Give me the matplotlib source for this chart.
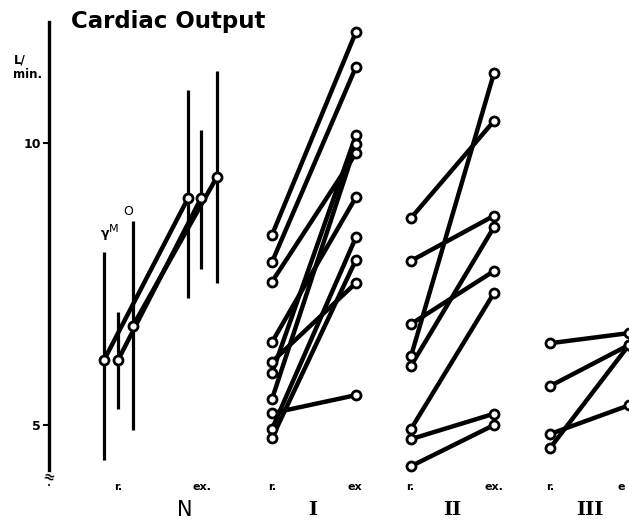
import matplotlib
matplotlib.use("Agg")
import matplotlib.pyplot as plt
import numpy as np

# ---- data (L/min) ----
n_rest_mean = [6.15, 6.15, 6.76]
n_rest_hi = [8.07, 7.00, 8.62]
n_rest_lo = [4.38, 5.28, 4.91]
n_ex_mean = [9.02, 9.02, 9.40]
n_ex_hi = [10.94, 10.23, 11.28]
n_ex_lo = [7.25, 7.77, 7.52]

g1_rest = [8.37, 7.89, 7.54, 6.47, 6.12, 5.92, 5.46, 5.21, 4.93, 4.77]
g1_ex = [11.97, 11.35, 9.82, 9.04, 7.52, 10.14, 9.98, 5.53, 8.33, 7.93]

g2_rest = [8.67, 7.91, 6.79, 6.22, 6.05, 4.93, 4.75, 4.27]
g2_ex = [10.39, 8.71, 7.73, 11.24, 8.51, 7.34, 5.20, 5.00]

g3_rest = [6.45, 5.69, 4.84, 4.59]
g3_ex = [6.63, 6.42, 5.35, 6.42]

group_names = ["N", "I", "II", "III"]
yticks = [5, 10]

# ---- layout ----
W, H = 629, 520
fig = plt.figure(figsize=(W / 100, H / 100), dpi=100)
ax = fig.add_axes([0, 0, 1, 1])
ax.set_xlim(0, W)
ax.set_ylim(3.316, 12.535)
ax.patch.set_alpha(0)

for s in ["top", "right", "bottom"]:
    ax.spines[s].set_visible(False)
ax.spines["left"].set_position(("data", 49))
ax.spines["left"].set_bounds(4.2, 12.15)
ax.spines["left"].set_linewidth(2.4)
ax.set_xticks([])
ax.set_yticks(yticks)
ax.set_yticklabels([str(t) for t in yticks], fontsize=9, fontweight="bold",
                   family="DejaVu Sans")
ax.tick_params(axis="y", direction="out", length=4, width=1.5, pad=2)

LW = 3.2
MS = 6.5
MEW = 2.0
mk = dict(marker="o", ms=MS, mfc="white", mec="black", mew=MEW)

# N group
n_rx = [104, 118, 133]
n_ex = [188, 201, 217]
for i in range(3):
    ax.vlines(n_rx[i], n_rest_lo[i], n_rest_hi[i], color="black", lw=2.3)
    ax.vlines(n_ex[i], n_ex_lo[i], n_ex_hi[i], color="black", lw=2.3)
for i in range(3):
    ax.plot([n_rx[i], n_ex[i]], [n_rest_mean[i], n_ex_mean[i]], color="black",
            lw=LW, solid_capstyle="round", zorder=3)
for i in range(3):
    ax.plot([n_rx[i], n_ex[i]], [n_rest_mean[i], n_ex_mean[i]], ls="none",
            zorder=4, **mk)
ax.text(n_rx[0] + 1, 8.40, "γ", fontsize=9, ha="center", va="center", fontweight="bold")
ax.text(n_rx[0] + 10, 8.48, "M", fontsize=8, ha="center", va="center")
ax.text(n_rx[2] - 5, 8.78, "O", fontsize=9, ha="center", va="center")

def pairs(xr, xe, rest, ex):
    for r, e in zip(rest, ex):
        ax.plot([xr, xe], [r, e], color="black", lw=LW, solid_capstyle="round",
                zorder=3, clip_on=False)
    ax.plot([xr] * len(rest), rest, ls="none", zorder=4, clip_on=False, **mk)
    ax.plot([xe] * len(ex), ex, ls="none", zorder=4, clip_on=False, **mk)

pairs(272, 356, g1_rest, g1_ex)
pairs(411, 494, g2_rest, g2_ex)
pairs(550, 629, g3_rest, g3_ex)

# axis labels
lab = dict(fontsize=8, fontweight="bold", ha="center", va="center")
yl = 3.90
ax.text(118, yl, "r.", **lab)
ax.text(202, yl, "ex.", **lab)
ax.text(272, yl, "r.", **lab)
ax.text(355, yl, "ex", **lab)
ax.text(410, yl, "r.", **lab)
ax.text(494, yl, "ex.", **lab)
ax.text(550, yl, "r.", **lab)
ax.text(621, yl, "e", **lab)

gy = 3.49
ax.text(185, gy, group_names[0], fontsize=15, ha="center", va="center",
        family="DejaVu Sans")
for xg, name in zip([313, 452, 590], group_names[1:]):
    ax.text(xg, gy, name, fontsize=14, ha="center", va="center",
            family="DejaVu Serif", fontweight="bold")

ax.text(168, 12.15, "Cardiac Output", fontsize=16.5, fontweight="bold",
        ha="center", va="center", family="DejaVu Sans")
ax.text(20, 11.48, "L/", fontsize=8.5, fontweight="bold", ha="center", va="center")
ax.text(28, 11.22, "min.", fontsize=8.5, fontweight="bold", ha="center", va="center")

# axis break
ax.text(49, 4.08, "≈", fontsize=10, ha="center", va="center", rotation=-15,
        fontweight="bold")
ax.text(49, 3.91, "•", fontsize=5, ha="center", va="center")

fig.savefig("out.png", dpi=100, facecolor="white")
